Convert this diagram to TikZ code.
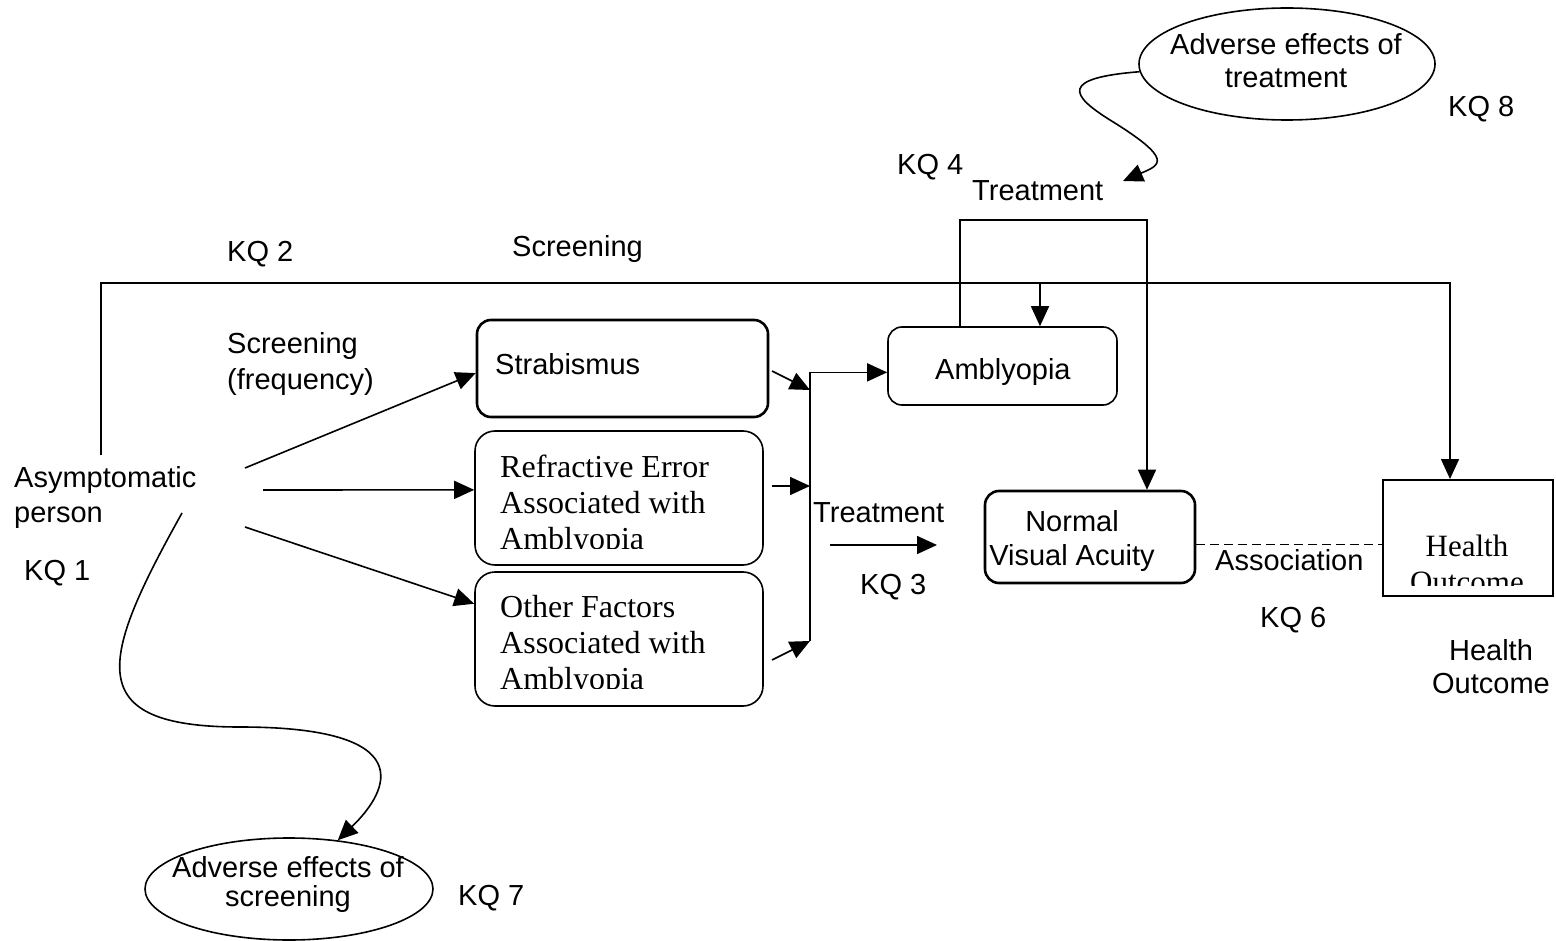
\documentclass[tikz,border=0pt]{standalone}
\usepackage{fontspec}
\setmainfont{Liberation Serif}
\setsansfont{Liberation Sans}
\usetikzlibrary{arrows.meta,shapes.geometric,calc}
\newcommand{\leftlines}[2]{\vtop{\baselineskip=#1\relax\lineskiplimit=-100pt\halign{##\hfil\cr#2\crcr}}}
\newcommand{\centerlines}[2]{\vtop{\baselineskip=#1\relax\lineskiplimit=-100pt\halign{\hfil##\hfil\cr#2\crcr}}}
\tikzset{
 lbl/.style={font=\sffamily\fontsize{29}{34}\selectfont, inner sep=0pt},
 ser/.style={font=\rmfamily\fontsize{32}{36}\selectfont, inner sep=0pt},
 rbox/.style={draw, rounded corners=14pt, line width=1.6pt, inner sep=0pt},
 thickbox/.style={rbox, line width=2.6pt},
 sqbox/.style={draw, line width=2pt, inner sep=0pt},
 conn/.style={line width=1.6pt},
 arr/.style={conn, -{Triangle[length=20pt,width=18pt]}},
 oval/.style={draw, ellipse, line width=1.6pt, inner sep=0pt},
 assocline/.style={line width=1.8pt, dash pattern=on 9pt off 5pt},
}
\begin{document}
\begin{tikzpicture}[x=1pt,y=-1pt]
\useasboundingbox (0,0) rectangle (1556,941);

% boxes
\node[thickbox, minimum width=291pt, minimum height=97pt] (strab) at (622.5,368.5) {};
\node[rbox, minimum width=288pt, minimum height=134pt, rounded corners=20pt] (refr) at (619,498) {};
\node[rbox, minimum width=288pt, minimum height=134pt, rounded corners=20pt] (other) at (619,639) {};
\node[rbox, minimum width=229pt, minimum height=78pt] (ambly) at (1002.5,366) {};
\node[thickbox, minimum width=210pt, minimum height=92pt] (normal) at (1090,537) {};
\node[sqbox, minimum width=170pt, minimum height=116pt] (health) at (1468,538) {};
\node[oval, minimum width=296pt, minimum height=112pt] (ell1) at (1287,64) {};
\node[oval, minimum width=288pt, minimum height=102pt] (ell2) at (289,889) {};

% texts in boxes
\node[lbl, anchor=base west] (t_strab) at (495,374) {Strabismus};
\node[lbl, anchor=base west] (t_ambly) at (935,380) {Amblyopia};
\node[lbl, anchor=base] (t_normal) at (1072,531) {\centerlines{34pt}{Normal\cr Visual Acuity}};
\begin{scope}
\clip (475,431) rectangle (763,548);
\node[ser, anchor=base west] (t_refr) at (500,477) {\leftlines{36pt}{Refractive Error\cr Associated with\cr Amblyopia}};
\end{scope}
\begin{scope}
\clip (475,572) rectangle (763,688);
\node[ser, anchor=base west] (t_other) at (500,617) {\leftlines{36pt}{Other Factors\cr Associated with\cr Amblyopia}};
\end{scope}
\begin{scope}
\clip (1383,480) rectangle (1553,585);
\node[ser, font=\rmfamily\fontsize{31}{36}\selectfont, anchor=base] (t_health) at (1467,556) {\centerlines{36pt}{Health\cr Outcome}};
\end{scope}
\node[lbl, anchor=base] (t_adv1) at (1286,55) {\centerlines{33pt}{Adverse effects of\cr treatment}};
\node[lbl, anchor=base] (t_adv2) at (288,877) {\centerlines{29pt}{Adverse effects of\cr screening}};

% free labels
\node[lbl, anchor=base west] (t_asym) at (14,487) {\leftlines{35pt}{Asymptomatic\cr person}};
\node[lbl, anchor=base west] (t_kq1) at (24,580) {KQ 1};
\node[lbl, anchor=base west] (t_kq2) at (227,262) {KQ 2};
\node[lbl, anchor=base west] (t_scr) at (512,257) {Screening};
\node[lbl, anchor=base west] (t_scrf) at (227,353) {\leftlines{36pt}{Screening\cr (frequency)}};
\node[lbl, anchor=base west] (t_kq4) at (897,175) {KQ 4};
\node[lbl, anchor=base west] (t_treat1) at (972,201) {Treatment};
\node[lbl, anchor=base west] (t_kq8) at (1448,117) {KQ 8};
\node[lbl, anchor=base west] (t_treat2) at (813,522) {Treatment};
\node[lbl, anchor=base west] (t_kq3) at (860,594) {KQ 3};
\node[lbl, anchor=base west] (t_assoc) at (1215,570) {Association};
\node[lbl, anchor=base west] (t_kq6) at (1260,627) {KQ 6};
\node[lbl, anchor=base] (t_ho) at (1491,660) {\centerlines{33pt}{Health\cr Outcome}};
\node[lbl, anchor=base west] (t_kq7) at (458,905) {KQ 7};

% coordinates
\coordinate (a1) at (245,468);
\coordinate (a2) at (263,490);
\coordinate (a3) at (245,527);
\coordinate (a4) at (182,513);
\coordinate (r1) at (772,371);
\coordinate (r2) at (772,486);
\coordinate (r3) at (772,660);
\coordinate (j1) at (810,390);
\coordinate (j2) at (810,486);
\coordinate (j3) at (810,641);
\coordinate (s0) at (101,455);
\coordinate (stop) at (1450,283);
\coordinate (sb) at (1040,283);
\coordinate (tl) at (960,220);
\coordinate (tr) at (1147,220);
\coordinate (m1) at (830,545);
\coordinate (m2) at (937,545);
\coordinate (tipT) at (1123,181);

% connectors from asymptomatic person
\draw[arr] (a1) -- ($(strab.north west)!0.546!(strab.south west)$);
\draw[arr] (a2) -- ($(refr.north west)!0.44!(refr.south west)$);
\draw[arr] (a3) -- ($(other.north west)!0.24!(other.south west)$);

% into collector
\draw[arr] (r1) -- (j1);
\draw[arr] (r2) -- (j2);
\draw[arr] (r3) -- (j3);
\draw[arr] (j3) |- ($(ambly.north west)!0.58!(ambly.south west)$);

% screening overarching line
\draw[arr] (s0) |- (stop) -- (stop |- health.north);
\draw[arr] (sb) -- (sb |- ambly.north);

% treatment loop
\draw[arr] (tl |- ambly.north) -- (tl) -- (tr) -- (tr |- normal.north);

% treatment KQ3 arrow
\draw[arr] (m1) -- (m2);

% association
\path ($(normal.north east)!0.58!(normal.south east)$) coordinate (d1);
\draw[assocline] (d1) -- (d1 -| health.west);

% adverse effects curves
\draw[arr] (ell1.183) .. controls (1060,78) and (1070,95) .. (1110,120) .. controls (1175,160) and (1160,165) .. (tipT);
\draw[arr] (a4) .. controls (100,660) and (80,727) .. (240,727) .. controls (420,727) and (390,790) .. (ell2.45);
\end{tikzpicture}
\end{document}
